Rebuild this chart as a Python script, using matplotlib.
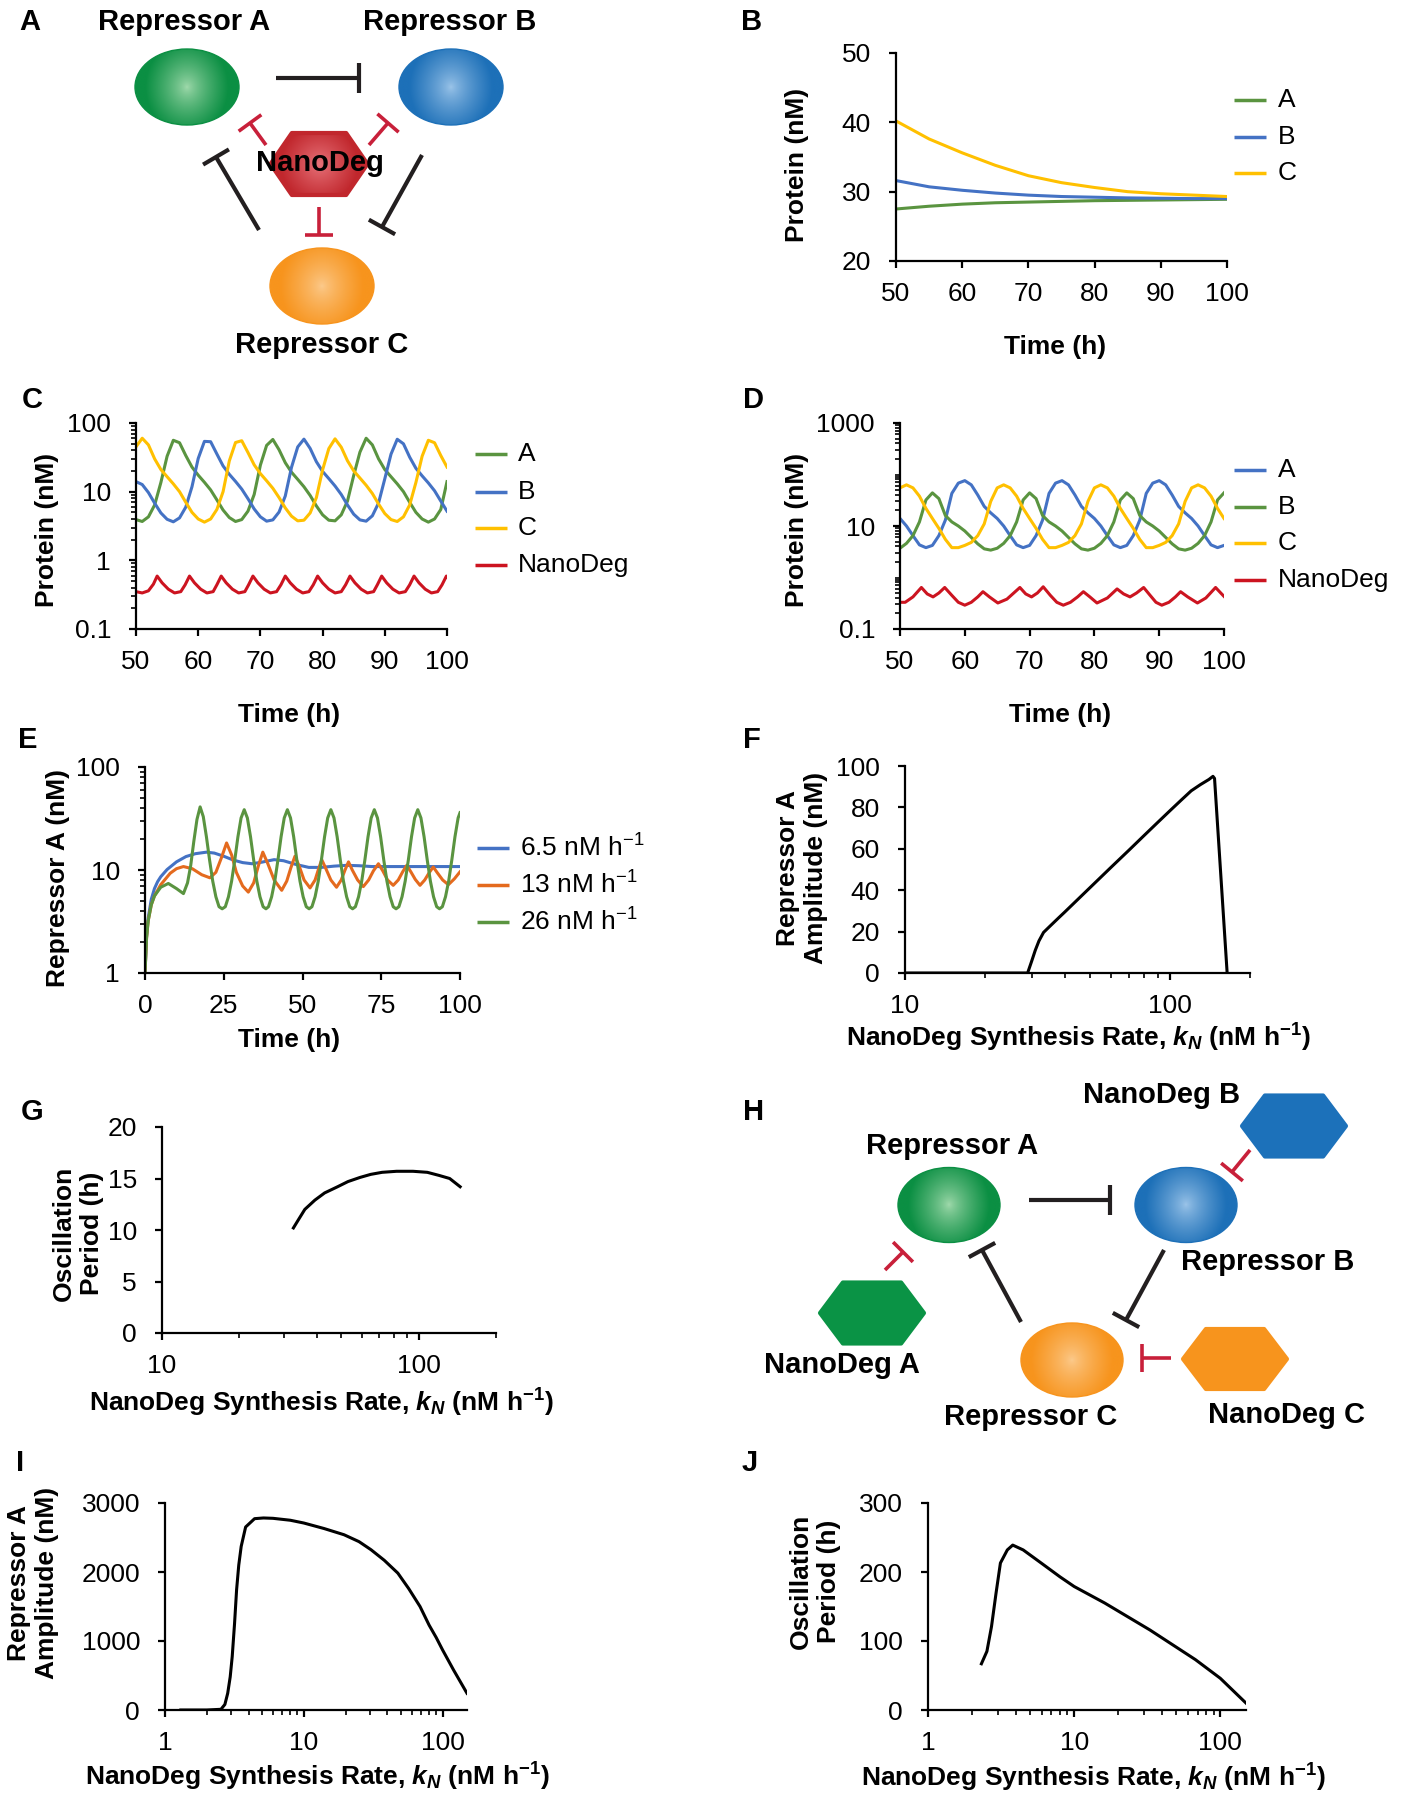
import numpy as np
import matplotlib
matplotlib.use("Agg")
import matplotlib.pyplot as plt
from matplotlib.patches import Ellipse, Polygon
from matplotlib.ticker import LogLocator, NullFormatter
from matplotlib.colors import to_rgb

plt.rcParams['font.family'] = ['Liberation Sans', 'DejaVu Sans']
plt.rcParams['mathtext.fontset'] = 'custom'
plt.rcParams['mathtext.it'] = 'Liberation Sans:italic:bold'
plt.rcParams['mathtext.rm'] = 'Liberation Sans'
plt.rcParams['mathtext.default'] = 'regular'

# ---------------- data ----------------
# B: damped approach to steady state
b_time = [50, 55, 60, 65, 70, 75, 80, 85, 90, 95, 100]
b_A = [27.5, 27.9, 28.2, 28.4, 28.5, 28.6, 28.7, 28.75, 28.8, 28.85, 28.9]
b_B = [31.6, 30.7, 30.2, 29.8, 29.5, 29.3, 29.2, 29.1, 29.05, 29.0, 29.0]
b_C = [40.2, 37.6, 35.6, 33.8, 32.3, 31.3, 30.6, 30.0, 29.7, 29.5, 29.3]

# C: oscillations, one value per hour from 50 to 100 h
cd_time = list(range(50, 101))
c_A = [3.92, 3.68, 4.3, 6.4, 13.6, 32.8, 56, 51.6, 33.6, 22.8,
       17.4, 13.7, 10.6, 7.6, 5.4, 4.2, 3.68, 3.92, 5.2, 9.1,
       24.4, 47.2, 57.6, 40.8, 26.4, 19.2, 15.1, 11.8, 8.8, 6.2,
       4.6, 3.84, 3.76, 4.6, 7.3, 17.2, 37.6, 60, 48, 30,
       21, 16.5, 13, 10, 7, 5, 4, 3.6, 4.0, 5.5, 14]
c_B = [14, 12.7, 9.7, 6.8, 4.9, 3.96, 3.64, 4.15, 5.95, 11.8,
       30.4, 54, 53.4, 35.4, 23.7, 17.9, 14.1, 10.9, 7.9, 5.6,
       4.3, 3.72, 3.88, 5.05, 8.65, 22.6, 44.8, 58.2, 42.6, 27.3,
       19.7, 15.5, 12.1, 9.1, 6.4, 4.7, 3.88, 3.72, 4.45, 6.85,
       15.4, 35.2, 58, 49.8, 31.8, 21.9, 17.0, 13.4, 10.3, 7.3, 5.2]
c_C = [45, 60, 48, 30, 21, 16.5, 13, 10, 7, 5,
       4, 3.6, 4.0, 5.5, 10, 28, 52, 55.2, 37.2, 24.6,
       18.3, 14.4, 11.2, 8.2, 5.8, 4.4, 3.76, 3.84, 4.9, 8.2,
       20.8, 42.4, 58.8, 44.4, 28.2, 20.1, 15.8, 12.4, 9.4, 6.6,
       4.8, 3.92, 3.68, 4.3, 6.4, 13.6, 32.8, 56, 51.6, 33.6, 22.8]
c_nd_time = [50, 51, 52, 52.8, 53.4,
             54.2, 55.2, 56.2, 57.2, 57.9, 58.6,
             59.4, 60.4, 61.4, 62.4, 63.0, 63.7,
             64.5, 65.5, 66.5, 67.5, 68.1, 68.8,
             69.6, 70.6, 71.6, 72.6, 73.3, 74.0,
             74.8, 75.8, 76.8, 77.8, 78.5, 79.2,
             80.0, 81.0, 82.0, 83.0, 83.7, 84.4,
             85.2, 86.2, 87.2, 88.2, 88.8, 89.5,
             90.3, 91.3, 92.3, 93.3, 94.0, 94.7,
             95.5, 96.5, 97.5, 98.5, 99.2, 99.9, 100]
c_nd = [0.35, 0.335, 0.36, 0.45, 0.59,
        0.47, 0.38, 0.335, 0.35, 0.44, 0.59,
        0.47, 0.38, 0.335, 0.35, 0.44, 0.59,
        0.47, 0.38, 0.335, 0.35, 0.44, 0.59,
        0.47, 0.38, 0.335, 0.35, 0.44, 0.59,
        0.47, 0.38, 0.335, 0.35, 0.44, 0.59,
        0.47, 0.38, 0.335, 0.35, 0.44, 0.59,
        0.47, 0.38, 0.335, 0.35, 0.44, 0.59,
        0.47, 0.38, 0.335, 0.35, 0.44, 0.59,
        0.47, 0.38, 0.335, 0.35, 0.44, 0.59, 0.57]

# D: oscillations with separate NanoDegs
d_A = [14, 10, 6.5, 4.3, 3.8, 4.2, 6.5, 13, 43, 68,
       76, 63, 40, 24, 18, 14, 10, 6.5, 4.3, 3.8,
       4.2, 6.5, 13, 43, 68, 76, 63, 40, 24, 18,
       14, 10, 6.5, 4.3, 3.8, 4.2, 6.5, 13, 43, 68,
       76, 63, 40, 24, 18, 14, 10, 6.5, 4.3, 3.8, 4.2]
d_B = [3.7, 4.6, 6.5, 12, 32, 44, 34, 16, 12, 10,
       8, 6, 4.5, 3.6, 3.4, 3.7, 4.6, 6.5, 12, 32,
       44, 34, 16, 12, 10, 8, 6, 4.5, 3.6, 3.4,
       3.7, 4.6, 6.5, 12, 32, 44, 34, 16, 12, 10,
       8, 6, 4.5, 3.6, 3.4, 3.7, 4.6, 6.5, 12, 32, 44]
d_C = [55, 63, 55, 38, 22, 14, 9, 5.5, 3.8, 3.8,
       4.2, 4.8, 6.5, 11, 30, 55, 63, 55, 38, 22,
       14, 9, 5.5, 3.8, 3.8, 4.2, 4.8, 6.5, 11, 30,
       55, 63, 55, 38, 22, 14, 9, 5.5, 3.8, 3.8,
       4.2, 4.8, 6.5, 11, 30, 55, 63, 55, 38, 22, 14]
d_nd_time = [50, 50.8, 52, 53.3, 54.2, 55.1, 56, 56.9, 58, 59,
             60, 61, 62, 62.8, 63.8, 65.1, 66.5, 68.5, 69.4, 70.3,
             71.2, 72.1, 73.2, 74.2, 75.2, 76.3, 77.4, 78.3, 79.3, 80.4,
             82, 83.5, 84.5, 85.5, 86.5, 87.6, 88.6, 89.5, 90.4, 91.5,
             92.5, 93.3, 94.4, 95.9, 97.2, 98.7, 99.5, 100]
d_nd = [0.33, 0.33, 0.42, 0.64, 0.48, 0.42, 0.5, 0.64, 0.45, 0.33,
        0.29, 0.33, 0.42, 0.53, 0.42, 0.32, 0.38, 0.64, 0.48, 0.42,
        0.5, 0.66, 0.45, 0.33, 0.29, 0.33, 0.42, 0.53, 0.42, 0.32,
        0.4, 0.6, 0.48, 0.42, 0.5, 0.64, 0.45, 0.33, 0.29, 0.33,
        0.42, 0.53, 0.42, 0.32, 0.4, 0.64, 0.5, 0.43]

# E: Repressor A for three NanoDeg synthesis rates
e_low_time = [0, 0.5, 1, 2, 3, 4, 5, 7, 10, 13, 16, 19.5, 22, 25, 28, 31, 34, 37, 41, 44,
              48, 52, 56, 60, 64, 68, 72, 80, 90, 100]
e_low = [1, 2.3, 3.4, 5.2, 6.6, 7.7, 8.6, 10.1, 12, 13.5, 14.4, 14.9, 14.6, 13.6, 12.5, 11.8,
         11.5, 11.9, 12.6, 12.3, 11.3, 10.6, 10.6, 10.9, 11.1, 11, 10.8, 10.8, 10.8, 10.8]
e_mid_time = [0, 0.5, 1, 2, 3, 5, 8, 10, 12.2, 15, 18, 20.6, 22.5, 24.2, 25.9, 27.5, 29, 31,
              32.8, 34.5, 36, 37.4, 39, 41, 43.4, 45, 46.3, 47.6, 49, 50.5, 52.4, 54, 55, 56.1,
              57.3, 59, 60.8, 62.3, 63.5, 64.6, 65.8, 67.5, 69.3, 71, 72.5, 74.1, 75.5, 77,
              78.8, 80.4, 81.8, 83.1, 84.4, 85.8, 87.3, 88.8, 90.2, 91.5, 92.8, 94.5, 96.3,
              98.2, 100]
e_mid = [1, 2.2, 3.2, 4.6, 5.6, 7.2, 9.3, 10.3, 10.8, 10.3, 9, 8.4, 9.5, 13, 18.3, 14, 9.5, 7,
         6.1, 7.5, 11, 14.9, 11.5, 8, 6.35, 7.8, 10.5, 13.6, 10.8, 8, 6.7, 8, 10, 12.6,
         10.5, 8, 6.8, 8, 10, 12, 10, 8, 6.9, 8, 9.8, 11.5, 9.8, 8,
         7.1, 8, 9.6, 11.1, 9.6, 8.1, 7.1, 8, 9.4, 10.7, 9.4, 8, 7.2,
         8.2, 9.6]
e_high_time = [0, 0.5, 1, 2, 3, 5, 7.4, 10, 12.2, 13.5, 14.5, 15.5, 16.5, 17.5, 18.5, 19.5,
               20.5, 21.5, 22.5, 23.5, 24.5,
               25.5, 26.5, 27.5, 28.5, 29.5, 30.5, 31.5, 32.5, 33.5, 34.5, 35.5, 36.5, 37.5, 38.4,
               39.2, 40.2, 41.2, 42.2, 43.2, 44.2, 45.2, 46.2, 47.2, 48.2, 49.2, 50.2, 51.2, 52.1,
               53.0, 54.0, 55.0, 56.0, 57.0, 58.0, 59.0, 60.0, 61.0, 62.0, 63.0, 64.0, 65.0, 65.9,
               66.8, 67.8, 68.8, 69.8, 70.8, 71.8, 72.8, 73.8, 74.8, 75.8, 76.8, 77.8, 78.8, 79.7,
               80.6, 81.6, 82.6, 83.6, 84.6, 85.6, 86.6, 87.6, 88.6, 89.6, 90.6, 91.6, 92.6, 93.5,
               94.4, 95.4, 96.4, 97.4, 98.4, 99.4, 100]
e_high = [1, 2.2, 3.2, 4.6, 5.6, 6.8, 7.4, 6.6, 5.9, 7.5, 11, 19, 31, 41, 33, 21,
          12.5, 7.8, 5.5, 4.4, 4.2,
          4.4, 5.5, 7.8, 12.5, 21, 32, 38.5, 32, 21, 12.5, 7.8, 5.5, 4.4, 4.2,
          4.4, 5.5, 7.8, 12.5, 21, 32, 38.5, 32, 21, 12.5, 7.8, 5.5, 4.4, 4.2,
          4.4, 5.5, 7.8, 12.5, 21, 32, 38.5, 32, 21, 12.5, 7.8, 5.5, 4.4, 4.2,
          4.4, 5.5, 7.8, 12.5, 21, 32, 38.5, 32, 21, 12.5, 7.8, 5.5, 4.4, 4.2,
          4.4, 5.5, 7.8, 12.5, 21, 32, 38.5, 32, 21, 12.5, 7.8, 5.5, 4.4, 4.2,
          4.4, 5.5, 7.8, 12.5, 21, 32, 36]
e_labels = ['6.5 nM h$^{-1}$', '13 nM h$^{-1}$', '26 nM h$^{-1}$']

# F, G: single NanoDeg sweep
f_kn = [10, 29, 30, 31, 32, 33.3, 35, 38, 40, 50, 60, 70, 80, 90, 100, 110, 120, 130, 140,
        145, 147, 164]
f_amp = [0, 0, 5.5, 11, 15.5, 19.6, 22.3, 26.7, 29.4, 41.4, 51.2, 59.4, 66.6, 72.9, 78.5,
         83.5, 88.0, 91.0, 93.5, 95.0, 94.0, 0]
g_kn = [32.5, 34, 36, 39.4, 43, 48.3, 53, 59, 65, 72, 82, 95, 108, 120, 132, 145]
g_period = [10.2, 11.0, 12.0, 12.9, 13.6, 14.2, 14.7, 15.1, 15.4, 15.6, 15.7, 15.7, 15.6,
            15.3, 15.0, 14.2]

# I, J: separate NanoDeg sweep
i_kn = [1.3, 2.0, 2.53, 2.7, 2.83, 2.95, 3.05, 3.17, 3.28, 3.4, 3.54, 3.81, 4.42, 5.12, 6, 8,
        10, 14, 19.5, 25, 30.5, 38, 47.6, 57, 68.8, 80, 90, 100, 120, 150]
i_amp = [0, 0, 10, 80, 242, 480, 774, 1250, 1742, 2100, 2371, 2652, 2773, 2783, 2778, 2750,
         2710, 2630, 2540, 2440, 2323, 2170, 1984, 1760, 1500, 1230, 1050, 871, 580, 242]
j_kn = [2.32, 2.53, 2.72, 2.92, 3.13, 3.49, 3.8, 4.48, 5.95, 8, 10, 16.2, 33, 67.6, 100, 150]
j_period = [67, 85, 121, 169, 213, 232, 239, 232, 213, 193, 179, 155, 116, 73, 46, 10]

# ---------------- styling ----------------
GREEN = '#5A9440'
BLUE = '#4472C4'
YELLOW = '#FFC000'
RED = '#CC1420'
ORANGE = '#E46A1E'
TICK = 19
LAB = 19
LW = 2.2
KN_LABEL = 'NanoDeg Synthesis Rate, $\\mathit{k_N}$ (nM h$^{-1}$)'

W, H = 1406, 1800
fig = plt.figure(figsize=(W / 100, H / 100), dpi=100)
fig.patch.set_facecolor('white')


def add_ax(l, r, t, b):
    ax = fig.add_axes([l / W, 1 - b / H, (r - l) / W, (b - t) / H])
    for s in ('top', 'right'):
        ax.spines[s].set_visible(False)
    for s in ('left', 'bottom'):
        ax.spines[s].set_linewidth(1.6)
    ax.tick_params(which='major', direction='out', length=5, width=1.6, labelsize=TICK)
    ax.tick_params(axis='y', which='major', pad=13)
    ax.tick_params(axis='x', which='major', pad=10)
    ax.tick_params(which='minor', direction='out', length=3.5, width=1.2)
    return ax


def ftext(x, y, s, **kw):
    fig.text(x / W, 1 - y / H, s, **kw)


def log_minor(axis):
    axis.set_minor_locator(LogLocator(base=10, subs=np.arange(1, 10), numticks=30))
    axis.set_minor_formatter(NullFormatter())


# B
ax = add_ax(896, 1227, 53, 261)
ax.plot(b_time, b_A, color=GREEN, lw=LW)
ax.plot(b_time, b_B, color=BLUE, lw=LW)
ax.plot(b_time, b_C, color=YELLOW, lw=LW)
ax.set_xlim(50, 100)
ax.set_ylim(20, 50)
ax.set_xticks(range(50, 101, 10))
ax.set_yticks([20, 30, 40, 50])

# C
ax = add_ax(136, 447, 423, 629)
ax.plot(cd_time, c_A, color=GREEN, lw=LW)
ax.plot(cd_time, c_B, color=BLUE, lw=LW)
ax.plot(cd_time, c_C, color=YELLOW, lw=LW)
ax.plot(c_nd_time, c_nd, color=RED, lw=LW)
ax.set_yscale('log')
ax.set_xlim(50, 100)
ax.set_ylim(0.1, 100)
ax.set_yticks([0.1, 1, 10, 100], ['0.1', '1', '10', '100'])
log_minor(ax.yaxis)
ax.set_xticks(range(50, 101, 10))

# D
ax = add_ax(900, 1224, 423, 629)
ax.plot(cd_time, d_A, color=BLUE, lw=LW)
ax.plot(cd_time, d_B, color=GREEN, lw=LW)
ax.plot(cd_time, d_C, color=YELLOW, lw=LW)
ax.plot(d_nd_time, d_nd, color=RED, lw=LW)
ax.set_yscale('log')
ax.set_xlim(50, 100)
ax.set_ylim(0.1, 1000)
ax.set_yticks([0.1, 10, 1000], ['0.1', '10', '1000'])
log_minor(ax.yaxis)
ax.set_xticks(range(50, 101, 10))

# E
ax = add_ax(145, 460, 767, 973)
ax.plot(e_low_time, e_low, color=BLUE, lw=LW)
ax.plot(e_mid_time, e_mid, color=ORANGE, lw=LW)
ax.plot(e_high_time, e_high, color=GREEN, lw=LW)
ax.set_yscale('log')
ax.set_xlim(0, 100)
ax.set_ylim(1, 100)
ax.set_yticks([1, 10, 100], ['1', '10', '100'])
log_minor(ax.yaxis)
ax.set_xticks([0, 25, 50, 75, 100])

# F
ax = add_ax(905, 1250, 766, 973)
ax.plot(f_kn, f_amp, color='black', lw=LW)
ax.set_xscale('log')
ax.set_xlim(10, 200)
ax.set_ylim(0, 100)
ax.set_xticks([10, 100], ['10', '100'])
log_minor(ax.xaxis)
ax.set_yticks(range(0, 101, 20))

# G
ax = add_ax(162, 496, 1127, 1333)
ax.plot(g_kn, g_period, color='black', lw=LW)
ax.set_xscale('log')
ax.set_xlim(10, 200)
ax.set_ylim(0, 20)
ax.set_xticks([10, 100], ['10', '100'])
log_minor(ax.xaxis)
ax.set_yticks(range(0, 21, 5))

# I
ax = add_ax(165, 467, 1503, 1710)
ax.plot(i_kn, i_amp, color='black', lw=LW)
ax.set_xscale('log')
ax.set_xlim(1, 150)
ax.set_ylim(0, 3000)
ax.set_xticks([1, 10, 100], ['1', '10', '100'])
log_minor(ax.xaxis)
ax.set_yticks(range(0, 3001, 1000))

# J
ax = add_ax(928, 1246, 1503, 1710)
ax.plot(j_kn, j_period, color='black', lw=LW)
ax.set_xscale('log')
ax.set_xlim(1, 150)
ax.set_ylim(0, 300)
ax.set_xticks([1, 10, 100], ['1', '10', '100'])
log_minor(ax.xaxis)
ax.set_yticks(range(0, 301, 100))

# axis titles
bold = dict(fontsize=LAB, fontweight='bold', ha='center', va='center')
ftext(797, 165, 'Protein (nM)', rotation=90, **bold)
ftext(1055, 347, 'Time (h)', **bold)
ftext(47, 530, 'Protein (nM)', rotation=90, **bold)
ftext(289, 715, 'Time (h)', **bold)
ftext(797, 530, 'Protein (nM)', rotation=90, **bold)
ftext(1060, 715, 'Time (h)', **bold)
ftext(58, 878, 'Repressor A (nM)', rotation=90, **bold)
ftext(289, 1040, 'Time (h)', **bold)
ftext(802, 868, 'Repressor A\nAmplitude (nM)', rotation=90, linespacing=1.25, **bold)
ftext(1078, 1038, KN_LABEL, **bold)
ftext(78, 1233, 'Oscillation\nPeriod (h)', rotation=90, linespacing=1.25, **bold)
ftext(321, 1403, KN_LABEL, **bold)
ftext(33, 1583, 'Repressor A\nAmplitude (nM)', rotation=90, linespacing=1.25, **bold)
ftext(317, 1777, KN_LABEL, **bold)
ftext(815, 1581, 'Oscillation\nPeriod (h)', rotation=90, linespacing=1.25, **bold)
ftext(1093, 1778, KN_LABEL, **bold)

# panel letters
for letter, x, y in [('A', 30, 22), ('B', 752, 22), ('C', 32, 400), ('D', 754, 400),
                     ('E', 28, 740), ('F', 752, 740), ('G', 32, 1112), ('H', 754, 1112),
                     ('I', 20, 1463), ('J', 750, 1463)]:
    ftext(x, y, letter, fontsize=21, fontweight='bold', ha='center', va='center')

# ---------------- overlay in pixel coordinates: legends and diagrams ----------------
dax = fig.add_axes([0, 0, 1, 1])
dax.axis('off')


def legend(x0, x1, xt, entries):
    for y, color, label in entries:
        dax.plot([x0, x1], [y, y], color=color, lw=LW + 0.3, solid_capstyle='butt')
        dax.text(xt, y, label, fontsize=TICK, ha='left', va='center')


legend(1234, 1266, 1278, [(100, GREEN, 'A'), (137, BLUE, 'B'), (173, YELLOW, 'C')])
legend(475, 507, 518, [(454, GREEN, 'A'), (492, BLUE, 'B'), (528, YELLOW, 'C'),
                       (565, RED, 'NanoDeg')])
legend(1234, 1266, 1278, [(470, BLUE, 'A'), (507, GREEN, 'B'), (543, YELLOW, 'C'),
                          (580, RED, 'NanoDeg')])
legend(477, 509, 520, [(848, BLUE, e_labels[0]), (885, ORANGE, e_labels[1]),
                       (922, GREEN, e_labels[2])])


def shaded(patch, cx, cy, w, h, c_edge, c_center, power=0.75):
    n = 160
    yy, xx = np.mgrid[-1:1:n * 1j, -1:1:n * 1j]
    r = np.clip(np.sqrt((xx * 1.25) ** 2 + (yy * 0.8) ** 2), 0, 1) ** power
    e = np.array(to_rgb(c_edge))
    c = np.array(to_rgb(c_center))
    img = c * (1 - r[..., None]) + e * r[..., None]
    dax.add_patch(patch)
    im = dax.imshow(img, extent=(cx - w / 2, cx + w / 2, cy + h / 2, cy - h / 2),
                    interpolation='bilinear', aspect='auto', zorder=2)
    im.set_clip_path(patch)


def sphere(cx, cy, c_edge, c_center, w=104, h=76):
    patch = Ellipse((cx, cy), w, h, facecolor='none', edgecolor=c_edge, lw=1, zorder=3)
    shaded(patch, cx, cy, w, h, c_edge, c_center)


def hex_pts(cx, cy, w, h):
    s = 0.22 * w
    return [(cx - w / 2, cy), (cx - w / 2 + s, cy - h / 2), (cx + w / 2 - s, cy - h / 2),
            (cx + w / 2, cy), (cx + w / 2 - s, cy + h / 2), (cx - w / 2 + s, cy + h / 2)]


def hexagon(cx, cy, color, w=104, h=61):
    dax.add_patch(Polygon(hex_pts(cx, cy, w, h), closed=True, facecolor=color,
                          edgecolor=color, lw=3, joinstyle='round', zorder=2))


def inhibit(x0, y0, x1, y1, color, lw=3.0, bar=15):
    dax.plot([x0, x1], [y0, y1], color=color, lw=lw, solid_capstyle='butt', zorder=4)
    dx, dy = x1 - x0, y1 - y0
    L = np.hypot(dx, dy)
    px, py = -dy / L, dx / L
    dax.plot([x1 - px * bar, x1 + px * bar], [y1 - py * bar, y1 + py * bar], color=color,
             lw=lw, solid_capstyle='butt', zorder=4)


BLACK = '#231F20'
INH_RED = '#C8203A'
G_EDGE, G_CEN = '#0B8F43', '#A3DBAE'
B_EDGE, B_CEN = '#1D70B8', '#9EC6EA'
O_EDGE, O_CEN = '#F7941D', '#FCCB8E'
dtext = dict(fontsize=21, fontweight='bold', ha='center', va='center', zorder=5)

# A diagram
sphere(187, 87, G_EDGE, G_CEN)
sphere(451, 87, B_EDGE, B_CEN)
sphere(322, 286, O_EDGE, O_CEN)
hpatch = Polygon(hex_pts(319, 164, 97, 62), closed=True, facecolor='none',
                 edgecolor='#C1272D', lw=3, joinstyle='round', zorder=3)
shaded(hpatch, 319, 164, 97, 62, '#C1272D', '#E7737A', power=0.9)
inhibit(276, 78, 359, 78, BLACK)
inhibit(259, 230, 216, 157, BLACK)
inhibit(422, 155, 382, 227, BLACK)
inhibit(266, 145, 250, 123, INH_RED, lw=2.6, bar=14)
inhibit(369, 145, 388, 123, INH_RED, lw=2.6, bar=14)
inhibit(319, 207, 319, 235, INH_RED, lw=2.6, bar=14)
dax.text(184, 22, 'Repressor A', **dtext)
dax.text(450, 22, 'Repressor B', **dtext)
dax.text(322, 345, 'Repressor C', **dtext)
dax.text(320, 163, 'NanoDeg', **dtext)

# H diagram
sphere(949, 1205, G_EDGE, G_CEN, w=102, h=75)
sphere(1186, 1205, B_EDGE, B_CEN, w=102, h=75)
sphere(1072, 1360, O_EDGE, O_CEN, w=102, h=74)
hexagon(1294, 1126, '#1C71BA')
hexagon(872, 1313, '#0A9345')
hexagon(1235, 1359, '#F7941D', h=60)
inhibit(1029, 1200, 1110, 1200, BLACK)
inhibit(1164, 1250, 1126, 1320, BLACK)
inhibit(1021, 1322, 982, 1250, BLACK)
inhibit(1250, 1150, 1232, 1172, INH_RED, lw=2.6, bar=14)
inhibit(885, 1270, 903, 1252, INH_RED, lw=2.6, bar=14)
inhibit(1171, 1358, 1142, 1358, INH_RED, lw=2.6, bar=14)
dax.text(952, 1146, 'Repressor A', **dtext)
dax.text(1268, 1262, 'Repressor B', **dtext)
dax.text(1031, 1417, 'Repressor C', **dtext)
dax.text(1162, 1095, 'NanoDeg B', **dtext)
dax.text(842, 1365, 'NanoDeg A', **dtext)
dax.text(1286, 1415, 'NanoDeg C', **dtext)

dax.set_xlim(0, W)
dax.set_ylim(H, 0)

fig.savefig('out.png', dpi=100, facecolor='white')
